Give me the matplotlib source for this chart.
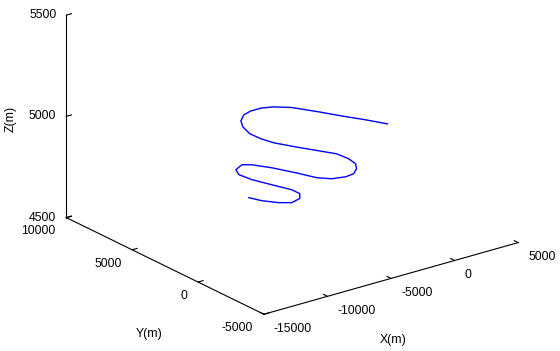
import matplotlib
matplotlib.use("Agg")
import matplotlib.pyplot as plt
from matplotlib.transforms import offset_copy

plt.rcParams['font.family'] = ['Liberation Sans', 'DejaVu Sans']
plt.rcParams['font.size'] = 8.8

# flight path (m)
x = [1291, 386, -620, -1575, -2706, -3577, -4223, -4911, -5449, -5881,
     -6066, -6049, -5737, -5280, -4375, -3419, -2666, -2305, -2193, -2379,
     -2766, -3306, -4097, -4796, -5605, -6563, -7415, -7913, -8448, -8536,
     -8125, -7366, -6608, -6399, -6635, -7223, -7870, -8622, -9125]
y = [1341, 2134, 2981, 3800, 4754, 5276, 5562, 5730, 5741, 5550,
     5221, 4708, 4174, 3630, 2839, 2019, 1383, 822, 401, 144,
     -1, 84, 379, 841, 1651, 2544, 3235, 3512, 3450, 3139,
     2549, 1768, 985, 581, 353, 391, 751, 1313, 1811]
z = [4950, 4961, 4971, 4982, 4993, 4995, 4992, 4984, 4974, 4958,
     4942, 4924, 4911, 4900, 4889, 4879, 4871, 4858, 4845, 4832,
     4818, 4810, 4805, 4808, 4821, 4834, 4842, 4842, 4829, 4816,
     4803, 4789, 4776, 4766, 4753, 4742, 4742, 4747, 4755]

xticks = [-15000, -10000, -5000, 0, 5000]
yticks = [-5000, 0, 5000, 10000]
zticks = [4500, 5000, 5500]

fig = plt.figure(figsize=(5.6, 3.51), dpi=100)
ax = fig.add_axes([0.0134, 0.1194, 1, 1], projection='3d', proj_type='ortho')
ax.view_init(elev=21.8, azim=-127.2)
ax.set_box_aspect((320, 327.5, 218.6), zoom=1.4)

ax.plot(x, y, z, color='#0000ff', lw=1.0)

ax.set_xlim(xticks[0], xticks[-1])
ax.set_ylim(yticks[0], yticks[-1])
ax.set_zlim(zticks[0], zticks[-1])
ax.set_xticks(xticks)
ax.set_yticks(yticks)
ax.set_zticks(zticks)
ax.set_xticklabels([])
ax.set_yticklabels([])
ax.set_zticklabels([])
ax.grid(False)
for a in (ax.xaxis, ax.yaxis, ax.zaxis):
    a.set_pane_color((1, 1, 1, 0))
    a.pane.set_edgecolor((1, 1, 1, 0))
    a.line.set_linewidth(0.8)
    a._axinfo['tick']['inward_factor'] = 0.0
    a._axinfo['tick']['outward_factor'] = 0.25
    a._axinfo['tick']['linewidth'] = {True: 0.8, False: 0.5}

# tick labels, MATLAB style
def off(dx, dy):
    return offset_copy(ax.transData, fig=fig, x=dx, y=dy, units='dots')

for t in xticks:
    ax.text(t, yticks[0], zticks[0], '%d' % t, transform=off(10, -8.3),
            ha='left', va='top')
for t in yticks:
    ax.text(xticks[0], t, zticks[0], '%d' % t, transform=off(-10.5, -7.8),
            ha='right', va='top')
for t in zticks:
    ax.text(xticks[0], yticks[-1], t, '%d' % t, transform=off(-10, 0),
            ha='right', va='center')

fig.text(393 / 560, 1 - 340 / 351, 'X(m)', ha='center', va='center')
fig.text(149 / 560, 1 - 334 / 351, 'Y(m)', ha='center', va='center')
fig.text(11 / 560, 1 - 119 / 351, 'Z(m)', ha='center', va='center', rotation=90)

plt.savefig("out.png", dpi=100)
